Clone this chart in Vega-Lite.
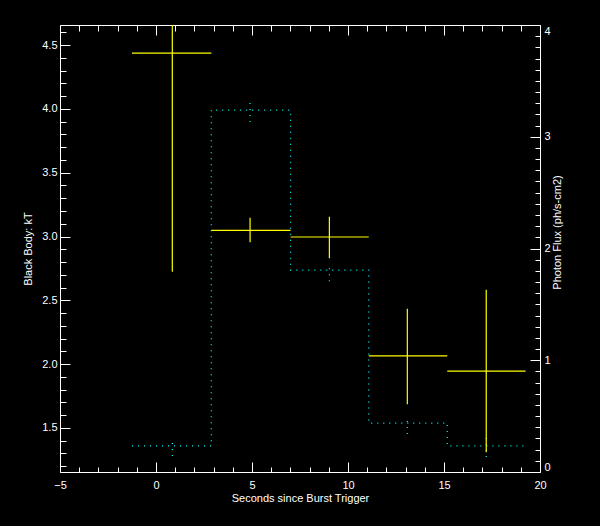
{
  "$schema": "https://vega.github.io/schema/vega-lite/v6.json",
  "width": 480,
  "height": 447,
  "autosize": {"type": "none"},
  "padding": {"left": 60, "top": 25, "right": 60, "bottom": 54},
  "background": "black",
  "config": {
    "view": {"stroke": "white", "strokeWidth": 1},
    "axis": {
      "domain": false,
      "grid": false,
      "tickColor": "white",
      "tickWidth": 1,
      "labelColor": "white",
      "titleColor": "white",
      "labelFont": "Liberation Sans",
      "titleFont": "Liberation Sans",
      "labelFontSize": 11,
      "titleFontSize": 11,
      "titleFontWeight": "normal"
    }
  },
  "datasets": {
    "flux": [
      {"t": -1.25, "flux": 0.233},
      {"t": 2.88, "flux": 3.238},
      {"t": 7.01, "flux": 1.807},
      {"t": 11.08, "flux": 0.438},
      {"t": 15.17, "flux": 0.233},
      {"t": 19.25, "flux": 0.233}
    ],
    "fluxerr": [
      {"t": 0.85, "lo": 0.143, "hi": 0.304},
      {"t": 4.90, "lo": 3.131, "hi": 3.345},
      {"t": 9.03, "lo": 1.708, "hi": 1.869},
      {"t": 13.09, "lo": 0.340, "hi": 0.501},
      {"t": 17.20, "lo": 0.134, "hi": 0.332}
    ],
    "kt": [
      {"t": 0.85, "tlo": -1.25, "thi": 2.88, "kT": 4.437, "lo": 2.724, "hi": 6.15},
      {"t": 4.90, "tlo": 2.88, "thi": 7.01, "kT": 3.048, "lo": 2.954, "hi": 3.147},
      {"t": 9.03, "tlo": 7.01, "thi": 11.08, "kT": 2.996, "lo": 2.829, "hi": 3.155},
      {"t": 13.09, "tlo": 11.08, "thi": 15.17, "kT": 2.064, "lo": 1.685, "hi": 2.434},
      {"t": 17.20, "tlo": 15.17, "thi": 19.25, "kT": 1.946, "lo": 1.309, "hi": 2.583}
    ]
  },
  "layer": [
    {
      "data": {"name": "flux"},
      "mark": {"type": "line", "interpolate": "step-after", "color": "#00ffff", "strokeDash": [1, 5], "strokeWidth": 1.2},
      "encoding": {
        "x": {
          "field": "t", "type": "quantitative",
          "scale": {"domain": [-5, 20], "nice": false, "zero": false},
          "axis": {"orient": "bottom", "values": [-5, 0, 5, 10, 15, 20], "tickSize": 10, "offset": -10, "labelPadding": 7, "labelFlush": false, "title": "Seconds since Burst Trigger", "titlePadding": 2}
        },
        "y": {
          "field": "flux", "type": "quantitative",
          "scale": {"domain": [0, 4], "nice": false, "zero": false},
          "axis": {"orient": "right", "values": [0, 1, 2, 3, 4], "tickSize": 10, "offset": -10, "labelPadding": 4, "labelFlush": true, "title": "Photon Flux (ph/s-cm2)", "titleAngle": 270, "titleBaseline": "top", "titlePadding": 1, "titleY": 207}
        }
      }
    },
    {
      "data": {"name": "fluxerr"},
      "mark": {"type": "rule", "color": "#00ffff", "strokeDash": [1, 5], "strokeWidth": 1.2},
      "encoding": {
        "x": {
          "field": "t", "type": "quantitative",
          "scale": {"domain": [-5, 20], "nice": false, "zero": false},
          "axis": {"orient": "bottom", "values": [-4, -3, -2, -1, 1, 2, 3, 4, 6, 7, 8, 9, 11, 12, 13, 14, 16, 17, 18, 19], "tickSize": 5, "offset": -5, "labels": false, "title": null}
        },
        "y": {
          "field": "lo", "type": "quantitative",
          "scale": {"domain": [0, 4], "nice": false, "zero": false},
          "axis": {"orient": "right", "values": [0.1, 0.2, 0.3, 0.4, 0.5, 0.6, 0.7, 0.8, 0.9, 1.1, 1.2, 1.3, 1.4, 1.5, 1.6, 1.7, 1.8, 1.9, 2.1, 2.2, 2.3, 2.4, 2.5, 2.6, 2.7, 2.8, 2.9, 3.1, 3.2, 3.3, 3.4, 3.5, 3.6, 3.7, 3.8, 3.9], "tickSize": 5, "offset": -5, "labels": false, "title": null}
        },
        "y2": {"field": "hi"}
      }
    },
    {
      "data": {"name": "kt"},
      "mark": {"type": "rule", "color": "#ffff00", "strokeWidth": 1.2},
      "encoding": {
        "x": {
          "field": "tlo", "type": "quantitative",
          "scale": {"domain": [-5, 20], "nice": false, "zero": false},
          "axis": {"orient": "top", "values": [-5, 0, 5, 10, 15, 20], "tickSize": 10, "offset": -10, "labels": false, "title": null}
        },
        "x2": {"field": "thi"},
        "y": {
          "field": "kT", "type": "quantitative",
          "scale": {"domain": [1.155, 4.657], "nice": false, "zero": false},
          "axis": {"orient": "left", "values": [1.5, 2.0, 2.5, 3.0, 3.5, 4.0, 4.5], "format": ".1f", "tickSize": 10, "offset": -10, "labelPadding": 3, "title": "Black Body: kT", "titlePadding": 8}
        }
      }
    },
    {
      "data": {"name": "kt"},
      "mark": {"type": "rule", "color": "#ffff00", "strokeWidth": 1.2, "clip": true},
      "encoding": {
        "x": {
          "field": "t", "type": "quantitative",
          "scale": {"domain": [-5, 20], "nice": false, "zero": false},
          "axis": {"orient": "top", "values": [-4, -3, -2, -1, 1, 2, 3, 4, 6, 7, 8, 9, 11, 12, 13, 14, 16, 17, 18, 19], "tickSize": 6, "offset": -6, "labels": false, "title": null}
        },
        "y": {
          "field": "lo", "type": "quantitative",
          "scale": {"domain": [1.155, 4.657], "nice": false, "zero": false},
          "axis": {"orient": "left", "values": [1.2, 1.3, 1.4, 1.6, 1.7, 1.8, 1.9, 2.1, 2.2, 2.3, 2.4, 2.6, 2.7, 2.8, 2.9, 3.1, 3.2, 3.3, 3.4, 3.6, 3.7, 3.8, 3.9, 4.1, 4.2, 4.3, 4.4, 4.6], "tickSize": 6, "offset": -6, "labels": false, "title": null}
        },
        "y2": {"field": "hi"}
      }
    }
  ],
  "resolve": {"scale": {"y": "independent"}, "axis": {"x": "independent", "y": "independent"}}
}
